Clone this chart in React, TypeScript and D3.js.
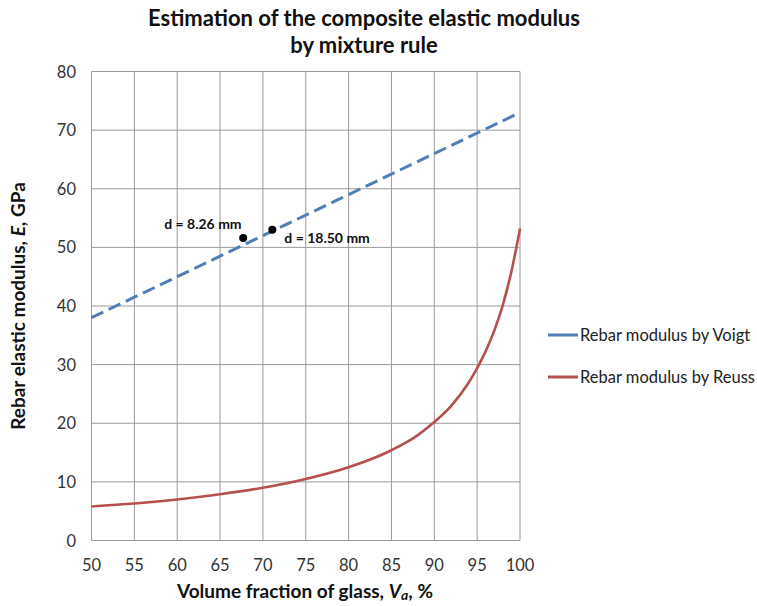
import React from "react";
import * as d3 from "d3";

const xTicks = [50, 55, 60, 65, 70, 75, 80, 85, 90, 95, 100];
const yTicks = [0, 10, 20, 30, 40, 50, 60, 70, 80];

const voigtX = [50, 60, 70, 80, 90, 100];
const voigtY = [38.0, 45.0, 52.0, 59.0, 66.0, 73.0];

const reussX = [50, 55, 60, 65, 70, 75, 80, 85, 88, 90, 92, 94, 95, 96, 97, 98, 99, 100];
const reussY = [5.8, 6.3, 7.0, 7.9, 9.0, 10.5, 12.5, 15.4, 17.9, 20.2, 23.0, 26.9, 29.4, 32.3, 35.8, 40.2, 45.9, 53.2];

const markerX = [67.7, 71.1];
const markerY = [51.6, 53.0];
const markerLabels = ["d = 8.26 mm", "d = 18.50 mm"];

const seriesNames = ["Rebar modulus by Voigt", "Rebar modulus by Reuss"];
const seriesColors = ["#4f7fb5", "#b5504d"];

const FONT = "Lato, 'Open Sans', sans-serif";

export default function App() {
  const W = 757, H = 606;
  const x = d3.scaleLinear().domain([50, 100]).range([91.5, 520]);
  const y = d3.scaleLinear().domain([0, 80]).range([540.5, 71.5]);

  const line = d3
    .line<[number, number]>()
    .x((d) => x(d[0]))
    .y((d) => y(d[1]))
    .curve(d3.curveMonotoneX);

  const voigt = voigtX.map((v, i) => [v, voigtY[i]] as [number, number]);
  const reuss = reussX.map((v, i) => [v, reussY[i]] as [number, number]);

  const labelOffsets = [
    { dx: -79, dy: -9 },
    { dx: 12, dy: 13 },
  ];

  return (
    <svg
      width={W}
      height={H}
      style={{ position: "absolute", left: 0, top: 0, background: "#fff" }}
      fontFamily={FONT}
    >
      <rect x={0} y={0} width={W} height={H} fill="#fff" />
      {/* title */}
      <text x={364} y={26} textAnchor="middle" fontSize={22} fontWeight="bold" fill="#111">
        Estimation of the composite elastic modulus
      </text>
      <text x={364} y={53} textAnchor="middle" fontSize={22} fontWeight="bold" fill="#111">
        by mixture rule
      </text>

      {/* grid */}
      {xTicks.map((t) => (
        <line key={"gx" + t} x1={x(t)} x2={x(t)} y1={y(0)} y2={y(80)} stroke="#9a9a9a" strokeWidth={1} />
      ))}
      {yTicks.map((t) => (
        <line key={"gy" + t} x1={x(50)} x2={x(100)} y1={y(t)} y2={y(t)} stroke="#9a9a9a" strokeWidth={1} />
      ))}

      {/* tick labels */}
      {xTicks.map((t) => (
        <text key={"tx" + t} x={x(t)} y={571} textAnchor="middle" fontSize={16.5} fill="#333">
          {t}
        </text>
      ))}
      {yTicks.map((t) => (
        <text key={"ty" + t} x={76} y={y(t) + 6} textAnchor="end" fontSize={16.5} fill="#333">
          {t}
        </text>
      ))}

      {/* axis titles */}
      <text x={305} y={598} textAnchor="middle" fontSize={19} fontWeight="bold" fill="#111">
        Volume fraction of glass, <tspan fontStyle="italic">V</tspan>
        <tspan fontStyle="italic" fontSize={14} dy={2}>a</tspan>
        <tspan dy={-2}>, %</tspan>
      </text>
      <text
        transform={`translate(25, ${y(40)}) rotate(-90)`}
        textAnchor="middle"
        fontSize={19}
        fontWeight="bold"
        fill="#111"
      >
        Rebar elastic modulus, <tspan fontStyle="italic">E</tspan>, GPa
      </text>

      {/* series */}
      <path d={line(voigt) || ""} fill="none" stroke={seriesColors[0]} strokeWidth={3} strokeDasharray="13,6" />
      <path d={line(reuss) || ""} fill="none" stroke={seriesColors[1]} strokeWidth={2.6} />

      {/* markers */}
      {markerX.map((mx, i) => (
        <g key={"m" + i}>
          <circle cx={x(mx)} cy={y(markerY[i])} r={4} fill="#000" />
          <text
            x={x(mx) + labelOffsets[i].dx}
            y={y(markerY[i]) + labelOffsets[i].dy}
            fontSize={14}
            fontWeight="bold"
            fill="#111"
          >
            {markerLabels[i]}
          </text>
        </g>
      ))}

      {/* legend */}
      {seriesNames.map((n, i) => (
        <g key={"lg" + i} transform={`translate(548, ${335 + i * 42})`}>
          <line x1={0} x2={30} y1={0} y2={0} stroke={seriesColors[i]} strokeWidth={3} />
          <text x={32} y={6} fontSize={16.5} fill="#222">
            {n}
          </text>
        </g>
      ))}
    </svg>
  );
}
